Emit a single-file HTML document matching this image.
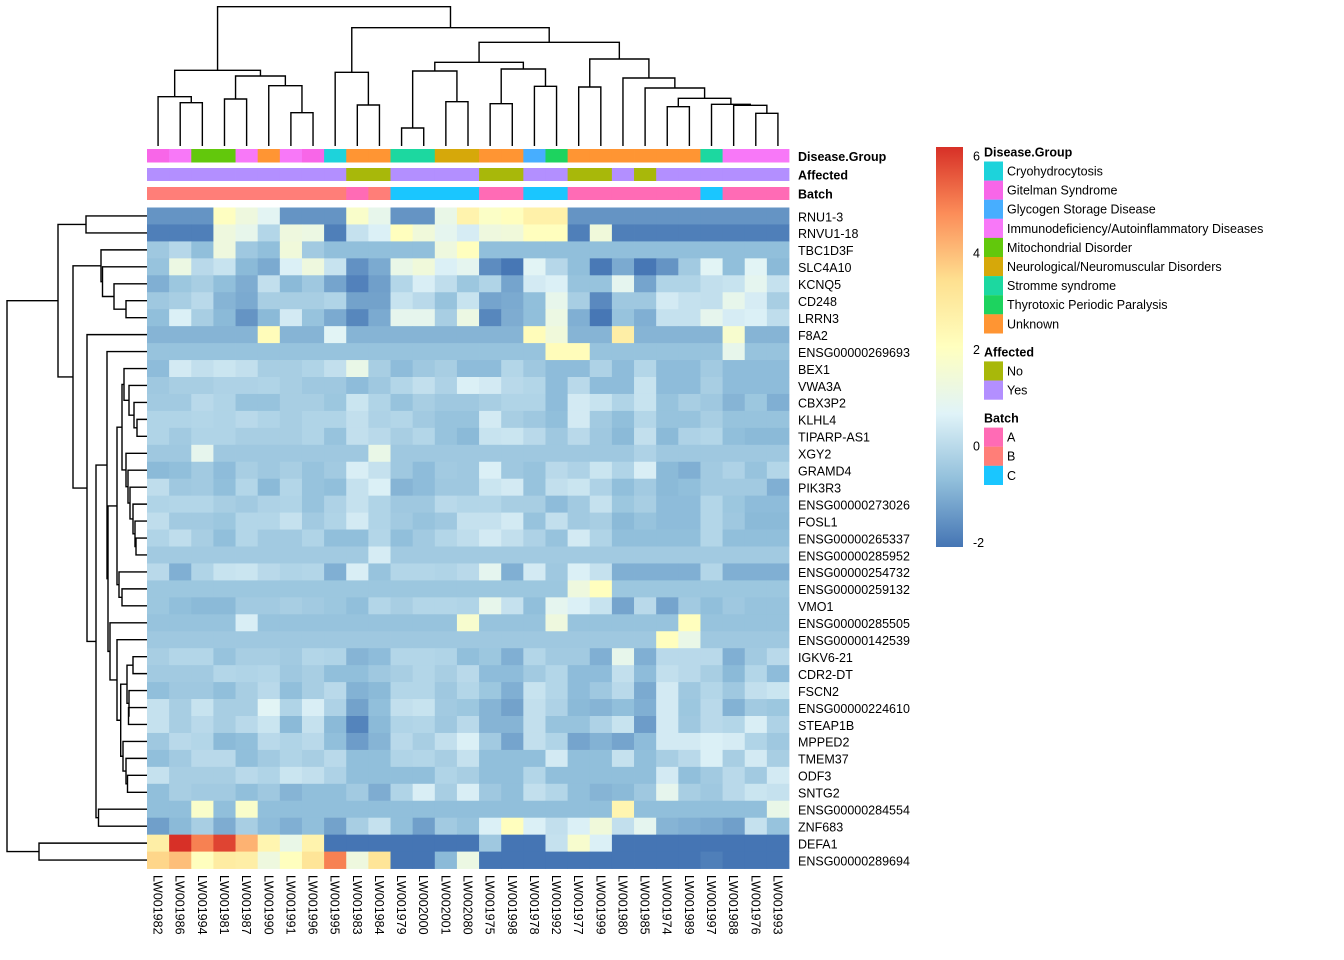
<!DOCTYPE html>
<html><head><meta charset="utf-8">
<style>
html,body{margin:0;padding:0;background:#fff;}
svg{display:block;font-family:"Liberation Sans",Arial,sans-serif;}
</style></head>
<body>
<svg id="chart" width="1344" height="960" viewBox="0 0 1344 960" xmlns="http://www.w3.org/2000/svg">
<g id="dendro-col"></g>
<g id="dendro-row"></g>
<g id="annot"></g>
<g id="cells"></g>
<g id="rowlabels"></g>
<g id="collabels"></g>
<g id="legend"></g>
</svg>
<script>
const colLabels = ["LW001982","LW001986","LW001994","LW001981","LW001987","LW001990","LW001991","LW001996","LW001995","LW001983","LW001984","LW001979","LW002000","LW002001","LW002080","LW001975","LW001998","LW001978","LW001992","LW001977","LW001999","LW001980","LW001985","LW001974","LW001989","LW001997","LW001988","LW001976","LW001993"];
const rowLabels = ["RNU1-3","RNVU1-18","TBC1D3F","SLC4A10","KCNQ5","CD248","LRRN3","F8A2","ENSG00000269693","BEX1","VWA3A","CBX3P2","KLHL4","TIPARP-AS1","XGY2","GRAMD4","PIK3R3","ENSG00000273026","FOSL1","ENSG00000265337","ENSG00000285952","ENSG00000254732","ENSG00000259132","VMO1","ENSG00000285505","ENSG00000142539","IGKV6-21","CDR2-DT","FSCN2","ENSG00000224610","STEAP1B","MPPED2","TMEM37","ODF3","SNTG2","ENSG00000284554","ZNF683","DEFA1","ENSG00000289694"];
const diseaseGroup = ["Gitelman Syndrome","Immunodeficiency/Autoinflammatory Diseases","Mitochondrial Disorder","Mitochondrial Disorder","Immunodeficiency/Autoinflammatory Diseases","Unknown","Immunodeficiency/Autoinflammatory Diseases","Gitelman Syndrome","Cryohydrocytosis","Unknown","Unknown","Stromme syndrome","Stromme syndrome","Neurological/Neuromuscular Disorders","Neurological/Neuromuscular Disorders","Unknown","Unknown","Glycogen Storage Disease","Thyrotoxic Periodic Paralysis","Unknown","Unknown","Unknown","Unknown","Unknown","Unknown","Stromme syndrome","Immunodeficiency/Autoinflammatory Diseases","Immunodeficiency/Autoinflammatory Diseases","Immunodeficiency/Autoinflammatory Diseases"];
const affected = ["Yes","Yes","Yes","Yes","Yes","Yes","Yes","Yes","Yes","No","No","Yes","Yes","Yes","Yes","No","No","Yes","Yes","No","No","Yes","No","Yes","Yes","Yes","Yes","Yes","Yes"];
const batch = ["B","B","B","B","B","B","B","B","B","A","B","C","C","C","C","A","A","C","C","A","A","A","A","A","A","C","A","A","A"];
const values = [
[-1.5,-1.5,-1.5,2.0,1.3,0.8,-1.5,-1.5,-1.5,1.8,1.0,-1.5,-1.5,1.1,2.6,1.9,2.1,2.7,2.7,-1.5,-1.5,-1.5,-1.5,-1.5,-1.5,-1.5,-1.5,-1.5,-1.5],
[-1.9,-1.9,-1.9,1.3,1.0,-0.1,1.3,1.2,-1.9,0.2,0.6,2.1,1.4,0.9,0.5,1.3,1.4,2.1,2.1,-1.9,1.4,-1.9,-1.9,-1.9,-1.9,-1.9,-1.9,-1.9,-1.9],
[-0.45,-0.05,-0.7,1.3,-0.45,-0.7,1.4,-0.4,-0.7,-0.7,-0.7,-0.7,-0.7,1.3,2.1,-0.7,-0.7,-0.7,-0.7,-0.7,-0.7,-0.7,-0.7,-0.7,-0.7,-0.7,-0.7,-0.7,-0.7],
[-0.6,1.2,0,0.25,-0.8,-1.1,0.6,1.3,0.25,-1.55,-1.1,1.1,1.4,0.6,0.9,-1.65,-2.05,0.75,-0.05,-0.7,-2.0,-1.1,-2.05,-1.5,-0.4,0.75,-0.7,0.75,-0.8],
[-1.0,-0.5,-0.3,-0.7,-1.05,0.15,-0.8,-0.45,-1.2,-1.85,-1.3,-0.1,0.55,0.1,-0.5,-0.15,-1.2,0.45,0.6,-0.6,-0.6,0.9,-1.2,-0.15,-0.15,0.15,0.25,0.9,0.2],
[-0.45,-0.3,0,-0.9,-1.1,-0.3,-0.3,-0.3,-0.15,-1.25,-1.25,0.25,0,-0.6,0.25,-1.2,-1.1,-0.7,1.0,-0.3,-1.7,-0.45,-0.45,0.45,0.2,0.15,1.0,0.5,-0.3],
[-0.7,0.6,-0.3,-0.8,-1.5,-0.8,0.45,-0.6,-1.1,-1.75,-1.1,0.95,0.95,-0.3,1.2,-1.75,-1.05,-0.7,1.2,-1.0,-2.05,-0.6,-1.0,0.2,0.2,0.95,0.5,0.6,0.1],
[-0.9,-0.9,-0.9,-0.9,-0.9,2.2,-0.9,-0.9,0.75,-0.9,-0.9,-0.9,-0.9,-0.9,-0.9,-0.9,-0.9,2.2,1.4,-0.9,-0.9,2.8,-0.9,-0.9,-0.9,-0.9,1.7,-0.9,-0.9],
[-0.6,-0.6,-0.6,-0.6,-0.6,-0.6,-0.6,-0.6,-0.6,-0.6,-0.6,-0.6,-0.6,-0.6,-0.6,-0.6,-0.6,-0.6,2.2,2.2,-0.6,-0.6,-0.6,-0.6,-0.6,-0.6,1.0,-0.6,-0.6],
[-0.75,0.45,0.15,0.3,0.15,-0.3,-0.3,-0.15,0.15,1.1,-0.3,-0.75,-0.45,-0.3,-0.75,-0.75,-0.1,-0.45,-0.75,-0.75,-0.2,-0.75,-0.1,-0.75,-0.75,-0.4,-0.75,-0.75,-0.75],
[-0.45,-0.3,-0.3,-0.2,-0.2,-0.15,-0.3,-0.45,-0.45,-0.75,-0.45,-0.1,0.15,-0.2,0.6,0.45,0,-0.1,-0.75,0,-0.75,-0.75,0.25,-0.75,-0.75,-0.3,-0.75,-0.75,-0.75],
[-0.4,-0.4,0,-0.15,-0.6,-0.6,-0.3,-0.3,-0.5,0.3,-0.15,-0.6,-0.3,-0.45,-0.45,-0.3,-0.15,-0.15,-0.75,0.45,0.25,-0.15,0.25,-0.6,-0.3,-0.45,-0.9,-0.5,-1.0],
[-0.15,-0.15,-0.1,-0.15,0,-0.15,-0.3,-0.15,-0.15,0.15,-0.2,-0.1,-0.4,-0.6,-0.6,0.45,-0.3,-0.45,-0.7,0.45,-0.4,-0.7,-0.1,-0.6,-0.6,-0.3,-0.6,-0.6,-0.6],
[-0.15,-0.4,-0.15,-0.15,-0.3,-0.3,-0.3,-0.15,-0.6,0.15,0,-0.3,-0.1,-0.6,-0.8,0.25,0.3,0,-0.45,0,-0.45,-0.8,0.15,-0.8,-0.2,-0.1,-0.7,-0.8,-0.8],
[-0.45,-0.45,0.95,-0.45,-0.45,-0.45,-0.45,-0.45,-0.45,-0.45,1.1,-0.45,-0.45,-0.45,-0.45,-0.45,-0.45,-0.45,-0.45,-0.45,-0.45,-0.45,-0.2,-0.45,-0.45,-0.45,-0.45,-0.45,-0.45],
[-0.8,-0.7,-0.4,-0.75,-0.3,-0.45,-0.3,-0.6,-0.4,0.55,0.2,-0.45,-0.75,-0.4,-0.45,0.6,-0.45,-0.6,0,-0.2,0.3,-0.15,0.55,-0.8,-1.0,-0.4,-0.2,-0.6,-0.1],
[0.1,-0.45,-0.4,-0.7,-0.1,-0.8,-0.1,-0.6,-0.7,0.2,0.6,-0.9,-0.75,-0.45,-0.45,0.3,0.45,-0.6,0.15,0.3,-0.2,-0.7,-0.4,-0.8,-0.7,-0.4,-0.4,-0.4,-1.0],
[-0.15,-0.1,-0.1,-0.3,-0.4,-0.2,-0.15,-0.6,-0.2,0.2,-0.15,-0.45,-0.45,0,-0.1,-0.1,-0.3,-0.3,-0.75,-0.4,0.2,-0.5,-0.3,-0.75,-0.75,-0.1,-0.5,-0.75,-0.75],
[0.1,-0.4,-0.4,-0.5,-0.1,-0.1,0.2,-0.4,-0.15,0.45,-0.15,-0.4,-0.6,-0.45,0.2,0.2,0.45,-0.6,0.15,-0.4,-0.3,-0.8,-0.6,-0.75,-0.75,-0.1,-0.45,-0.8,-0.8],
[-0.15,0.1,-0.3,-0.7,-0.1,-0.4,-0.4,-0.15,-0.7,-0.7,-0.1,-0.7,-0.4,-0.1,0.1,0.45,0.15,-0.2,-0.6,0.45,-0.15,-0.7,-0.7,-0.7,-0.7,-0.1,-0.7,-0.7,-0.7],
[-0.4,-0.4,-0.4,-0.4,-0.4,-0.4,-0.4,-0.4,-0.4,-0.4,0.5,-0.4,-0.4,-0.4,-0.4,-0.4,-0.4,-0.4,-0.4,-0.4,-0.4,-0.4,-0.4,-0.4,-0.4,-0.4,-0.4,-0.4,-0.4],
[0,-1.0,-0.15,0.25,0.3,0,-0.15,-0.1,-1.0,0.55,-0.6,-0.1,-0.1,-0.15,0,0.9,-1.0,0.45,-0.45,0.6,0.2,-1.0,-1.0,-1.0,-1.0,-0.1,-1.0,-1.0,-1.0],
[-0.5,-0.5,-0.5,-0.5,-0.5,-0.5,-0.5,-0.5,-0.5,-0.5,-0.5,-0.5,-0.5,-0.5,-0.5,-0.5,-0.5,-0.5,-0.5,1.3,2.1,-0.5,-0.5,-0.5,-0.5,-0.5,-0.5,-0.5,-0.5],
[-0.5,-0.7,-0.8,-0.8,-0.4,-0.4,-0.3,-0.4,-0.5,-0.7,-0.1,-0.3,-0.1,-0.1,-0.15,1.0,0.2,-0.7,0.9,0.6,0.25,-1.2,0,-1.2,-0.4,-0.7,-0.45,-0.6,-0.6],
[-0.6,-0.6,-0.6,-0.6,0.55,-0.6,-0.6,-0.6,-0.6,-0.6,-0.6,-0.6,-0.6,-0.6,1.7,-0.6,-0.6,-0.6,1.3,-0.6,-0.6,-0.6,-0.6,-0.6,2.1,-0.6,-0.6,-0.6,-0.6],
[-0.45,-0.45,-0.45,-0.45,-0.45,-0.45,-0.45,-0.45,-0.45,-0.45,-0.45,-0.45,-0.45,-0.45,-0.45,-0.45,-0.45,-0.45,-0.45,-0.45,-0.45,-0.45,-0.45,2.1,1.1,-0.45,-0.45,-0.45,-0.45],
[-0.3,-0.1,-0.1,-0.6,-0.3,-0.3,-0.4,-0.1,-0.15,-0.9,-0.75,-0.1,-0.1,-0.15,-0.7,-0.5,-1.0,-0.1,-0.4,-0.4,-1.0,1.0,-1.0,0,0,0,-1.0,-0.4,0],
[-0.4,-0.4,-0.4,-0.1,-0.15,-0.1,-0.45,-0.3,-0.7,-0.7,-0.45,-0.3,-0.1,-0.3,0,-0.75,-0.75,-0.4,-0.1,-0.75,-0.75,0.15,-0.75,0.15,0,-0.3,-0.8,-0.1,-0.75],
[-0.7,-0.45,-0.45,-0.7,-0.3,0,-0.7,-0.3,0,-0.95,-0.8,-0.1,-0.1,-0.45,-0.1,-0.5,-1.0,0.25,-0.1,-0.75,-0.45,0,-1.1,0.45,-0.45,-0.1,-0.45,0.15,0.3],
[0.2,-0.3,0.25,-0.3,-0.3,0.75,-0.15,0.55,-0.2,-1.25,-0.7,0.15,0.25,-0.4,-0.5,-0.9,-1.25,0.15,-0.2,-0.8,-0.9,-0.7,-1.0,0.45,-0.5,0,-0.95,-0.4,-0.5],
[0.2,-0.3,0,-0.3,0,0.3,-0.8,0.2,-0.8,-1.8,-0.8,-0.15,-0.1,-0.45,0,-0.9,-0.9,0.15,-0.6,-0.6,-0.2,0.25,-1.35,0.45,-0.45,0,-0.1,0.55,-0.2],
[-0.45,0,-0.1,-0.8,-0.7,0,-0.15,0,-0.7,-1.35,-0.9,0,-0.3,0.15,0.6,-0.4,-1.2,0.15,-0.15,-1.2,-0.95,-1.2,-0.75,0.45,0.45,0.6,0.5,-0.15,-0.45],
[-0.7,-0.4,0,0,-0.7,-0.4,-0.15,-0.3,0,-0.7,-0.7,-0.15,-0.1,-0.3,0.2,-0.7,-0.7,-0.7,0.45,-0.7,-0.7,0.2,-0.7,-0.3,0,0.6,-0.3,0.45,-0.3],
[0.2,-0.3,-0.3,-0.3,0,-0.15,0.3,0.15,-0.2,-0.7,-0.7,-0.7,-0.7,-0.15,-0.3,-0.7,-0.7,-0.1,-0.7,-0.7,-0.7,-0.7,-0.7,0.45,-0.7,-0.4,0,-0.4,0.45],
[-0.7,-0.3,-0.4,-0.4,-0.7,-0.45,-0.9,-0.7,-0.7,-0.4,-1.05,-0.15,0.55,-0.3,0.55,-0.45,-0.7,0.15,-0.1,-0.7,-0.9,-0.8,-0.45,0.95,-0.3,-0.45,0,0.3,0.2],
[-0.7,-0.7,1.8,-0.7,1.8,-0.7,-0.7,-0.7,-0.7,-0.7,-0.7,-0.7,-0.7,-0.7,-0.7,-0.7,-0.7,-0.7,-0.7,-0.7,-0.7,2.5,-0.7,-0.7,-0.7,-0.7,-0.7,-0.7,1.1],
[-1.3,-0.8,-0.3,-1.05,-0.3,-0.75,-1.0,-0.7,-1.25,-0.3,0.2,-0.7,-1.3,-0.4,-0.6,0.6,2.1,0.6,0.15,0.6,1.4,0.15,0.9,-0.9,-1.0,-1.1,-1.3,0.2,-0.6],
[2.8,6.2,5.0,5.9,4.2,2.5,1.1,2.6,-2.1,-2.1,-2.1,-2.1,-2.1,-2.1,-2.1,-0.45,-2.1,-2.1,0.2,1.7,0.6,-2.1,-2.1,-2.1,-2.1,-2.1,-2.1,-2.1,-2.1],
[3.6,4.0,2.1,2.9,2.8,1.3,2.1,3.2,5.0,1.3,3.2,-2.2,-2.2,-0.8,1.2,-2.2,-2.2,-2.2,-2.2,-2.2,-2.2,-2.2,-2.2,-2.2,-2.2,-1.9,-2.2,-2.2,-2.2]
];
const legendTicks = [6,4,2,0,-2];
const diseaseLevels = ["Cryohydrocytosis","Gitelman Syndrome","Glycogen Storage Disease","Immunodeficiency/Autoinflammatory Diseases","Mitochondrial Disorder","Neurological/Neuromuscular Disorders","Stromme syndrome","Thyrotoxic Periodic Paralysis","Unknown"];
const diseaseColors = ["#1DD3DB","#F866E8","#47AEFF","#F878F8","#62C80C","#D6A80A","#1CD8A0","#1DD35F","#FF9533"];
const affectedLevels = ["No","Yes"];
const affectedColors = ["#A8B80A","#B38FFF"];
const batchLevels = ["A","B","C"];
const batchColors = ["#FF6BB5","#FF7E78","#1AC6FF"];
const colTree = [[[0,[1,2,102.7],96.7],[[3,4,99],[5,[6,7,112.7],85.7],76],70.3],
  [[8,[9,10,105],72.3],[[[[11,12,128],[13,14,101.7],71],[[15,16,103.7],[17,18,86.3],69],62.3],
   [[19,20,87],[21,[22,[[23,24,106.7],[25,[26,[27,28,113.3],105.3],104.3],98.3],88],78],59],42.3],27.7],6.7];
const rowTree = [[[0,1,86],[[2,[3,[4,[5,6,126],114],102.5],101],[7,[[8,[[[[9,[10,[11,[12,13,137],134],129],124],[14,[15,[16,[17,[18,[19,20,136],135],133],130],128],126],122],[21,[22,23,122],119],117],
   [24,[25,[[[26,27,133],[28,[29,30,128.5],129],127],[31,[32,[33,34,127.5],126],123],120.7],117],110],108],107],[35,36,98.5],96],87],73],58],[37,38,39],7];

const NS="http://www.w3.org/2000/svg";
const X0=147, CW=642/29, Y0=207.5, RH=16.95;
const vmin=-2.08, vmax=6.2;
const pal=["#4575B4","#91BFDB","#E0F3F8","#FFFFBF","#FEE090","#FC8D59","#D73027"];
function hex(c){return [parseInt(c.slice(1,3),16),parseInt(c.slice(3,5),16),parseInt(c.slice(5,7),16)];}
function colorOf(v){
  let t=(v-vmin)/(vmax-vmin); t=Math.max(0,Math.min(1,t));
  const p=t*6, i=Math.min(5,Math.floor(p)), f=p-i;
  const a=hex(pal[i]), b=hex(pal[i+1]);
  return "rgb("+a.map((x,k)=>Math.round(x+(b[k]-x)*f)).join(",")+")";
}
function xScale(c){return X0+c*CW;}
function yScale(r){return Y0+r*RH;}
function mk(tag,attrs,parent){const e=document.createElementNS(NS,tag);for(const k in attrs)e.setAttribute(k,attrs[k]);parent.appendChild(e);return e;}

const gC=document.getElementById('cells');
values.forEach((row,r)=>row.forEach((v,c)=>{
  const e=mk('rect',{x:xScale(c),y:yScale(r),width:CW+0.4,height:RH+0.4,fill:colorOf(v)},gC);
  
  
}));
const gR=document.getElementById('rowlabels');
rowLabels.forEach((l,r)=>{
  const t=mk('text',{x:798,y:yScale(r)+RH/2+5.3,'font-size':12.5,fill:'#000'},gR);
  t.textContent=l;
  
  
});
const gL=document.getElementById('collabels');
colLabels.forEach((l,c)=>{
  const cx=xScale(c)+CW/2-4.5, y=875;
  const t=mk('text',{x:0,y:0,'font-size':12.5,fill:'#000',transform:`translate(${cx},${y}) rotate(90)`},gL);
  t.textContent=l;
  
  
});
const gA=document.getElementById('annot');
const annRows=[{vals:diseaseGroup,lv:diseaseLevels,cl:diseaseColors,y:149,h:13.5,name:"Disease.Group"},
 {vals:affected,lv:affectedLevels,cl:affectedColors,y:168,h:13,name:"Affected"},
 {vals:batch,lv:batchLevels,cl:batchColors,y:187,h:13,name:"Batch"}];
annRows.forEach(a=>{
  a.vals.forEach((v,c)=>{
    const e=mk('rect',{x:xScale(c),y:a.y,width:CW+0.4,height:a.h,fill:a.cl[a.lv.indexOf(v)]},gA);
    
    
  });
  const t=mk('text',{x:798,y:a.y+a.h/2+5,'font-size':12.5,'font-weight':'bold',fill:'#000'},gA);
  t.textContent=a.name;
  
  
});
function drawCol(node,g){
  if(typeof node==='number') return {x:xScale(node)+CW/2,y:146};
  const a=drawCol(node[0],g), b=drawCol(node[1],g), h=node[2];
  const p=mk('path',{d:`M${a.x},${a.y}V${h}H${b.x}V${b.y}`,fill:'none',stroke:'#000','stroke-width':1.4},g);
  
  
  return {x:(a.x+b.x)/2,y:h};
}
function drawRow(node,g){
  if(typeof node==='number') return {x:147,y:yScale(node)+RH/2};
  const a=drawRow(node[0],g), b=drawRow(node[1],g), h=node[2];
  const p=mk('path',{d:`M${a.x},${a.y}H${h}V${b.y}H${b.x}`,fill:'none',stroke:'#000','stroke-width':1.4},g);
  
  
  return {x:h,y:(a.y+b.y)/2};
}
drawCol(colTree,document.getElementById('dendro-col'));
drawRow(rowTree,document.getElementById('dendro-row'));
const gG=document.getElementById('legend');
const defs=mk('defs',{},gG);
const lg=mk('linearGradient',{id:'cbar',x1:0,y1:1,x2:0,y2:0},defs);
pal.forEach((c,i)=>mk('stop',{offset:i/6,'stop-color':c},lg));
const cb=mk('rect',{x:936,y:147,width:27,height:400,fill:'url(#cbar)'},gG);


function legY(v){return 547-(v-vmin)/(vmax-vmin)*400;}
legendTicks.forEach(v=>{
  const t=mk('text',{x:973,y:legY(v)+4,'font-size':12.5,fill:'#000'},gG);
  t.textContent=String(v);
  
  
});
let ly=152;
annRows.forEach((a,ai)=>{
  const t=mk('text',{x:984,y:ly+4.5,'font-size':12.5,'font-weight':'bold',fill:'#000'},gG);
  t.textContent=a.name;
  
  
  ly+=9.5;
  a.lv.forEach((l,i)=>{
    const r=mk('rect',{x:984,y:ly,width:19,height:19.2,fill:a.cl[i]},gG);
    
    
    const tt=mk('text',{x:1007,y:ly+14,'font-size':12.5,fill:'#000'},gG);
    tt.textContent=l;
    
    
    ly+=19.1;
  });
  ly+=18.5;
});
</script>
</body></html>
